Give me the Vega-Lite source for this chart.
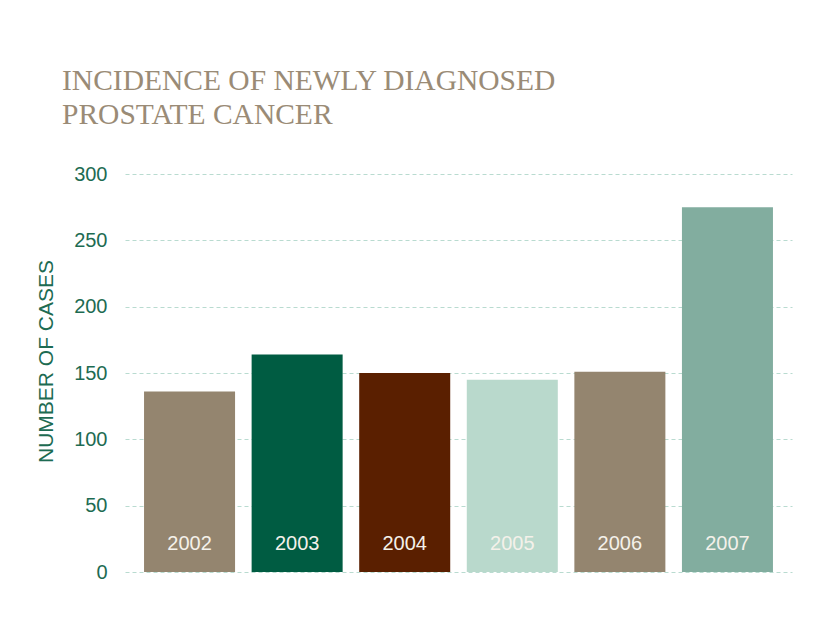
{
  "$schema": "https://vega.github.io/schema/vega-lite/v6.json",
  "autosize": {"type": "none"},
  "width": 667,
  "height": 398,
  "padding": {"left": 125, "top": 174, "right": 44, "bottom": 48},
  "background": "#ffffff",
  "config": {"view": {"stroke": null}},
  "title": {
    "text": ["INCIDENCE OF NEWLY DIAGNOSED", "PROSTATE CANCER"],
    "anchor": "start",
    "frame": "group",
    "dx": -63,
    "offset": 34,
    "font": "Liberation Serif",
    "fontSize": 29.5,
    "fontWeight": "normal",
    "color": "#9a8b76",
    "lineHeight": 34
  },
  "data": {
    "values": [
      {"year": "2002", "cases": 136},
      {"year": "2003", "cases": 164},
      {"year": "2004", "cases": 150},
      {"year": "2005", "cases": 145},
      {"year": "2006", "cases": 151},
      {"year": "2007", "cases": 275}
    ]
  },
  "encoding": {
    "x": {
      "field": "year",
      "type": "nominal",
      "sort": null,
      "scale": {"paddingInner": 0.154, "paddingOuter": 0.177},
      "axis": null
    }
  },
  "layer": [
    {
      "mark": {"type": "bar"},
      "encoding": {
        "y": {
          "field": "cases",
          "type": "quantitative",
          "scale": {"domain": [0, 300], "nice": false},
          "axis": {
            "title": "NUMBER OF CASES",
            "titleFont": "Liberation Sans",
            "titleFontSize": 21,
            "titleFontWeight": "normal",
            "titleColor": "#1d6b52",
            "titlePadding": 17,
            "titleY": 187,
            "values": [0, 50, 100, 150, 200, 250, 300],
            "labelFont": "Liberation Sans",
            "labelFontSize": 20,
            "labelColor": "#1d6b52",
            "labelPadding": 18,
            "ticks": false,
            "domain": false,
            "grid": true,
            "gridColor": "#b9dbd0",
            "gridDash": [4, 3],
            "gridWidth": 1
          }
        },
        "color": {
          "field": "year",
          "type": "nominal",
          "scale": {
            "domain": ["2002", "2003", "2004", "2005", "2006", "2007"],
            "range": ["#94856f", "#005c42", "#5a1f00", "#b9d9cc", "#94856f", "#82ad9f"]
          },
          "legend": null
        }
      }
    },
    {
      "mark": {
        "type": "text",
        "baseline": "alphabetic",
        "dy": -22,
        "font": "Liberation Sans",
        "fontSize": 20,
        "color": "#f4f1ea"
      },
      "encoding": {
        "y": {"datum": 0, "type": "quantitative"},
        "text": {"field": "year", "type": "nominal"}
      }
    }
  ]
}
